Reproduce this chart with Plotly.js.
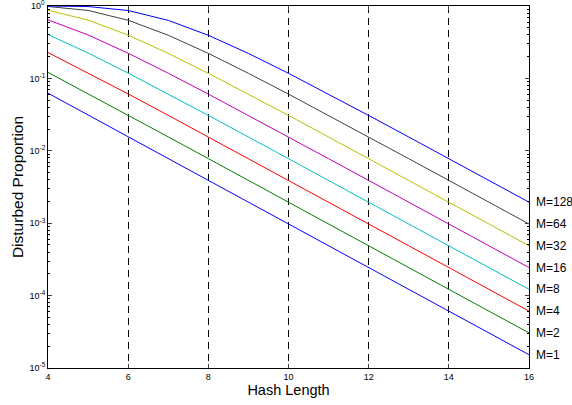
<!DOCTYPE html>
<html>
<head>
<meta charset="utf-8">
<script src="https://cdn.plot.ly/plotly-3.0.1.min.js"></script>
<style>html,body{margin:0;padding:0;background:#fff;}#chart{width:572px;height:405px;}</style>
</head>
<body>
<div id="chart"></div>
<script>
const hashLength = [4, 5, 6, 7, 8, 9, 10, 11, 12, 13, 14, 15, 16];
const seriesNames = ['M=1', 'M=2', 'M=4', 'M=8', 'M=16', 'M=32', 'M=64', 'M=128'];
const m1   = [0.0625, 0.03125, 0.015625, 0.0078125, 0.00390625, 0.0019531, 0.00097656, 0.00048828, 0.00024414, 0.00012207, 6.1035e-5, 3.0518e-5, 1.5259e-5];
const m2   = [0.12109, 0.061523, 0.031006, 0.015564, 0.0077972, 0.0039024, 0.0019526, 0.00097633, 0.00048822, 0.00024413, 1.2207e-4, 6.1034e-5, 3.0517e-5];
const m4   = [0.22752, 0.119262, 0.061050, 0.030886, 0.015533, 0.0077897, 0.0039005, 0.0019517, 0.00097609, 0.00048819, 2.4413e-4, 1.2207e-4, 6.1034e-5];
const m8   = [0.40328, 0.224300, 0.118373, 0.060818, 0.030825, 0.015519, 0.0077858, 0.0038996, 0.0019514, 0.00097604, 4.8821e-4, 2.4413e-4, 1.2207e-4];
const m16  = [0.64393, 0.398290, 0.222734, 0.117937, 0.060700, 0.030796, 0.015511, 0.0077840, 0.0038991, 0.0019512, 9.7608e-4, 4.8821e-4, 2.4412e-4];
const m32  = [0.87321, 0.637945, 0.395858, 0.221965, 0.117715, 0.060645, 0.030781, 0.015507, 0.0077830, 0.0038988, 0.0019512, 9.7609e-4, 4.8824e-4];
const m64  = [0.98392, 0.868916, 0.635012, 0.394662, 0.221573, 0.117611, 0.060615, 0.030774, 0.015505, 0.0077825, 0.0038986, 0.0019512, 9.7614e-4];
const m128 = [0.99974, 0.982817, 0.866784, 0.633566, 0.394051, 0.221348, 0.117556, 0.060601, 0.030770, 0.015504, 0.0077823, 0.0038987, 0.0019513];
const colors = ['#0000ff', '#008000', '#ff0000', '#00bfbf', '#bf00bf', '#bfbf00', '#404040', '#0000ff'];
const yTickVals = [1e-5, 1e-4, 1e-3, 1e-2, 1e-1];
const yTickText = ['10<sup>-5</sup>', '10<sup>-4</sup>', '10<sup>-3</sup>', '10<sup>-2</sup>', '10<sup>-1</sup>'];
const yTopTickText = '10<sup>0</sup>';
const xTickVals = [4, 6, 8, 10, 12, 14, 16];

const allSeries = [m1, m2, m4, m8, m16, m32, m64, m128];
const traces = allSeries.map((ys, i) => ({
  x: hashLength, y: ys, type: 'scatter', mode: 'lines', name: seriesNames[i],
  line: {color: colors[i], width: 1}, showlegend: false
}));

const annotations = allSeries.map((ys, i) => ({
  x: hashLength[hashLength.length - 1], y: Math.log10(ys[ys.length - 1]),
  xref: 'x', yref: 'y', text: seriesNames[i], showarrow: false,
  xanchor: 'left', yanchor: 'middle', xshift: 5,
  font: {family: 'Liberation Sans, Arial, sans-serif', size: 12, color: '#000'}
}));
annotations.push({
  x: 0, y: 0, xref: 'paper', yref: 'y', text: yTopTickText, showarrow: false,
  xanchor: 'right', yanchor: 'middle', xshift: -1, yshift: 1,
  font: {family: 'Liberation Sans, Arial, sans-serif', size: 9, color: '#000'}
});

const layout = {
  width: 572, height: 405,
  margin: {l: 48, r: 43, t: 6, b: 37},
  paper_bgcolor: '#fff', plot_bgcolor: '#fff',
  font: {family: 'Liberation Sans, Arial, sans-serif', color: '#000'},
  xaxis: {
    range: [4, 16], tickvals: xTickVals, ticks: 'inside', ticklen: 4,
    showline: true, linecolor: '#000', linewidth: 1, mirror: 'allticks',
    showgrid: true, gridcolor: '#000', gridwidth: 1, griddash: '7px,5px',
    zeroline: false, tickfont: {size: 9},
    title: {text: 'Hash Length', font: {size: 14.5}, standoff: 4}
  },
  yaxis: {
    type: 'log', range: [-5, 0], tickvals: yTickVals, ticktext: yTickText,
    ticks: 'inside', ticklen: 4,
    minor: {ticks: 'inside', ticklen: 2, dtick: 'D1', showgrid: false, tickcolor: '#000'},
    showline: true, linecolor: '#000', linewidth: 1, mirror: 'allticks',
    showgrid: false, zeroline: false, tickfont: {size: 9},
    title: {text: 'Disturbed Proportion', font: {size: 15.5}, standoff: 2}
  },
  annotations: annotations
};
Plotly.newPlot('chart', traces, layout, {displayModeBar: false, staticPlot: true});
</script>
</body>
</html>
